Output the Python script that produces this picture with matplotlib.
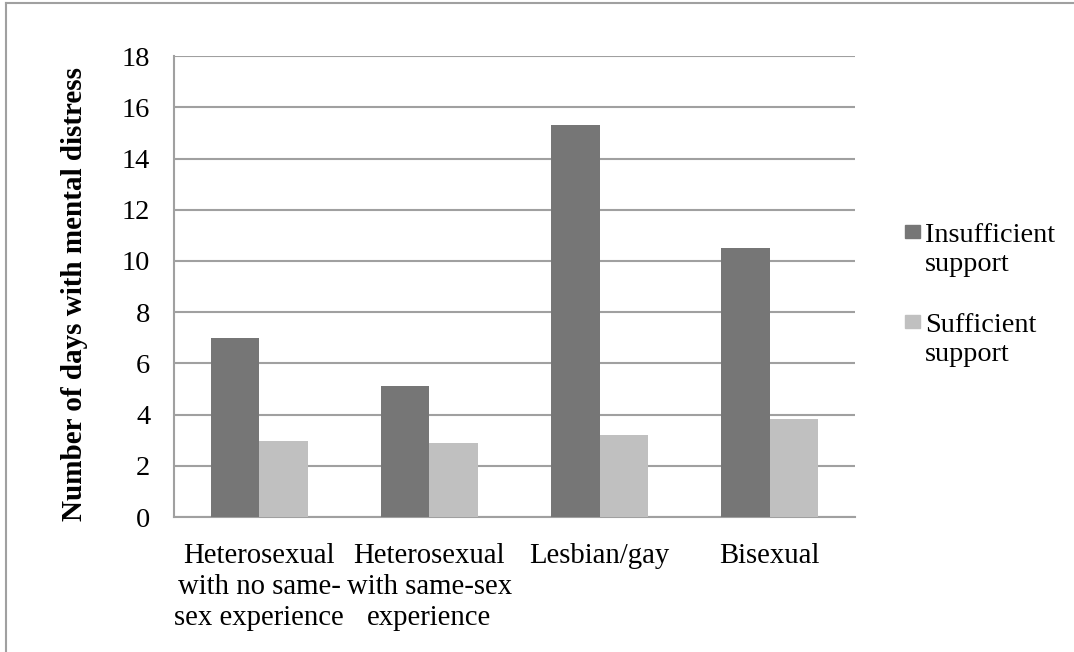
import matplotlib.pyplot as plt
import numpy as np
from matplotlib.lines import Line2D
from matplotlib.patches import Rectangle

# data
categories = ["Heterosexual\nwith no same-\nsex experience",
              "Heterosexual\nwith same-sex\nexperience",
              "Lesbian/gay",
              "Bisexual"]
insufficient = [7.0, 5.12, 15.3, 10.5]
sufficient = [2.95, 2.89, 3.2, 3.82]
series_labels = ["Insufficient\nsupport", "Sufficient\nsupport"]
yticks = list(range(0, 20, 2))

dark = "#767676"
light = "#c0c0c0"
grid_col = "#a0a0a0"
plt.rcParams["font.family"] = ["Liberation Serif", "DejaVu Serif"]

fig = plt.figure(figsize=(10.74, 6.52), dpi=100)
ax = fig.add_axes([0.162, 0.207, 0.634, 0.707])

x = np.arange(len(categories))
w = 0.285
ax.bar(x - w / 2, insufficient, width=w, color=dark, zorder=3)
ax.bar(x + w / 2, sufficient, width=w, color=light, zorder=3)

ax.set_xlim(-0.5, len(categories) - 0.5)
ax.set_ylim(0, 18)
ax.set_yticks(yticks)
ax.set_yticklabels([str(t) for t in yticks], fontsize=20.5)
ax.set_xticks(x)
ax.set_xticklabels(categories, fontsize=20.7, linespacing=1.25)
ax.tick_params(axis="y", length=0, pad=17)
ax.tick_params(axis="x", length=0, pad=19)
ax.yaxis.grid(True, color=grid_col, linewidth=1.5, zorder=0)
for s in ["top", "right"]:
    ax.spines[s].set_visible(False)
for s in ["left", "bottom"]:
    ax.spines[s].set_color(grid_col)
    ax.spines[s].set_linewidth(1.5)

fig.text(0.069, 0.549, "Number of days with mental distress", fontsize=21,
         fontweight="bold", rotation=90, ha="center", va="center")

# legend, squares aligned with the first line of each label
for i, (lab, col) in enumerate(zip(series_labels, [dark, light])):
    ytop = 0.655 - i * 0.138
    fig.patches.append(Rectangle((0.8427, ytop - 0.02), 0.014, 0.02,
                                 transform=fig.transFigure, color=col))
    fig.text(0.861, ytop + 0.003, lab, fontsize=20.3, va="top", ha="left",
             linespacing=1.2)

# outer frame of the chart area
fig.add_artist(Line2D([0.006, 1.0], [0.995, 0.995], color=grid_col,
                      linewidth=1.5, transform=fig.transFigure))
fig.add_artist(Line2D([0.006, 0.006], [0.0, 0.995], color=grid_col,
                      linewidth=1.5, transform=fig.transFigure))

fig.savefig("out.png", dpi=100)
